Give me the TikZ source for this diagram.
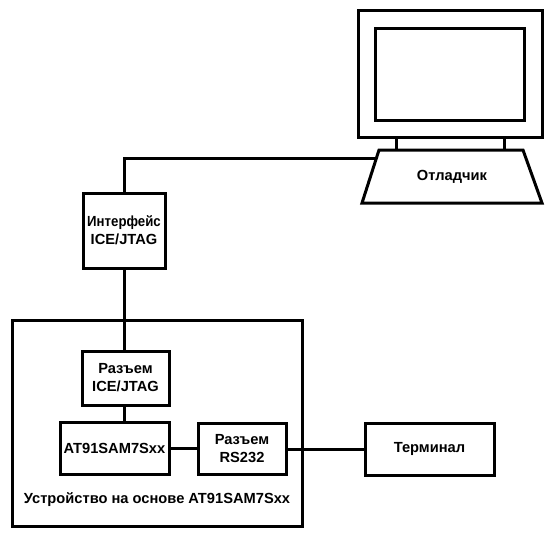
\documentclass[tikz,border=0pt]{standalone}
\usepackage{fontspec}
\usepackage{graphicx}
\setmainfont{Liberation Sans}
\begin{document}
\begin{tikzpicture}[x=0.75pt,y=-0.75pt,
  every path/.style={line width=2.25pt},
  lbl/.style={font=\fontsize{11}{13.5}\selectfont\bfseries, align=center, inner sep=0pt},
  blk/.style={draw, line width=2.25pt, inner sep=0pt, outer sep=0pt, lbl,
     minimum width={#1}},
  blk/.default=60pt]
\useasboundingbox (0,0) rectangle (554,537);
% monitor
\draw[line width=2.25pt] (358,10) rectangle (542,137);
\draw[line width=2.25pt] (375,28) rectangle (524,120);
\draw[line width=2.25pt] (396,137) -- (396,150) (504,137) -- (504,150);
\draw[line width=2.25pt, line join=miter] (379,150) -- (523,150) -- (542,203) -- (362,203) -- cycle;
\node[lbl] (dbg) at (452,177) {Отладчик};
\coordinate (dbgL) at (376.4,158);
% interface box
\node[blk={82*0.75pt}, minimum height={75*0.75pt}] (ifc) at (124,230.5) {\scalebox{0.9}[1]{Интерфейс}\\ICE/JTAG};
% outer device
\draw[line width=2.25pt] (12,320) rectangle (302,526);
\node[lbl] (dev) at (157,500) {Устройство на основе AT91SAM7Sxx};
\node[blk={87*0.75pt}, minimum height={54*0.75pt}] (conn) at (125.5,378) {Разъем\\ICE/JTAG};
\node[blk={109*0.75pt}, minimum height={52*0.75pt}] (mcu) at (114.5,448) {AT91SAM7Sxx};
\node[blk={88*0.75pt}, minimum height={51*0.75pt}] (rs) at (242,448.5) {Разъем\\RS232};
\node[blk={129*0.75pt}, minimum height={52*0.75pt}] (term) at (429.5,449) {Терминал};
% connectors
\draw[line width=2.25pt] (dbgL) -| (ifc.north);
\draw[line width=2.25pt] (ifc.south) -- (ifc.south |- conn.north);
\draw[line width=2.25pt] (ifc.south |- conn.south) -- (ifc.south |- mcu.north);
\draw[line width=2.25pt] (mcu.east) -- (rs.west |- mcu.east);
\draw[line width=2.25pt] (rs.east |- term.west) -- (term.west);
\end{tikzpicture}
\end{document}
